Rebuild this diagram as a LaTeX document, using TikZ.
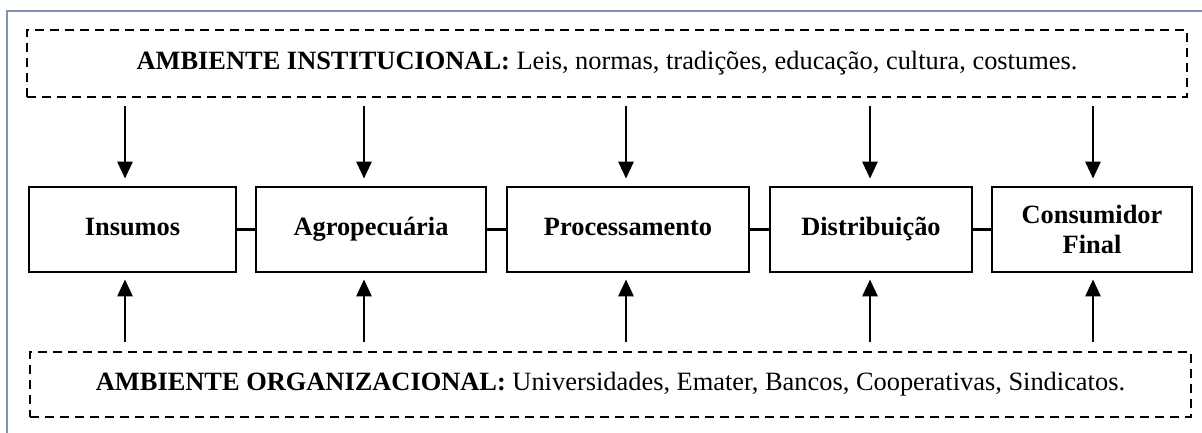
\documentclass[tikz,border=0pt]{standalone}
\usepackage{fontspec}
\setmainfont{Liberation Serif}
\usetikzlibrary{arrows.meta}
\definecolor{framecol}{RGB}{130,146,180}
\tikzset{
  stagebox/.style={draw=black, line width=2.8pt, inner sep=0pt, align=center,
    font=\fontsize{26.4}{30}\selectfont\bfseries},
  onelabel/.style={text height=17pt, text depth=5pt},
  envbox/.style={draw=black, line width=2.8pt, dash pattern=on 9pt off 6pt,
    inner sep=0pt, text height=17pt, text depth=5pt,
    font=\fontsize{26.4}{30}\selectfont},
  link/.style={line width=2.6pt},
  arr/.style={line width=2.8pt, -{Triangle[width=15pt,length=17pt]}},
}
\begin{document}
\begin{tikzpicture}[x=1pt,y=-1pt]
\useasboundingbox (0,0) rectangle (1202,432);
\fill[white] (0,0) rectangle (1202,432);
\begin{scope}
\clip (0,0) rectangle (1202,432);
\draw[framecol, line width=2.2pt] (7,450) -- (7,11) -- (1220,11);
\end{scope}

% environment boxes
\node[envbox, minimum width=1160pt, minimum height=67pt] (inst) at (607,63.5)
  {\textbf{AMBIENTE INSTITUCIONAL:} Leis, normas, tradições, educação, cultura, costumes.};
\node[envbox, minimum width=1161pt, minimum height=65pt] (org) at (610.5,384.5)
  {\textbf{AMBIENTE ORGANIZACIONAL:} Universidades, Emater, Bancos, Cooperativas, Sindicatos.};

% stage boxes
\node[stagebox, onelabel, minimum width=207pt, minimum height=85pt] (ins) at (132.5,229.5) {Insumos};
\node[stagebox, onelabel, minimum width=230pt, minimum height=85pt] (agro) at (371,229.5) {Agropecuária};
\node[stagebox, onelabel, minimum width=242pt, minimum height=85pt] (proc) at (628,229.5) {Processamento};
\node[stagebox, onelabel, minimum width=202pt, minimum height=85pt] (dist) at (871,229.5) {Distribuição};
\node[stagebox, minimum width=200pt, minimum height=85pt] (cons) at (1092,229.5) {Consumidor\\Final};

% links between stages
\draw[link] (ins.east) -- (agro.west);
\draw[link] (agro.east) -- (proc.west);
\draw[link] (proc.east) -- (dist.west);
\draw[link] (dist.east) -- (cons.west);

% arrow columns
\coordinate (c1) at (125,0);
\coordinate (c2) at (364,0);
\coordinate (c3) at (626,0);
\coordinate (c4) at (870,0);
\coordinate (c5) at (1093,0);

\foreach \c/\b in {c1/ins, c2/agro, c3/proc, c4/dist, c5/cons}{
  \draw[arr, shorten <=8pt, shorten >=7pt] (inst.south -| \c) -- (\b.north -| \c);
  \draw[arr, shorten <=9pt, shorten >=6pt] (org.north -| \c) -- (\b.south -| \c);
}
\end{tikzpicture}
\end{document}
